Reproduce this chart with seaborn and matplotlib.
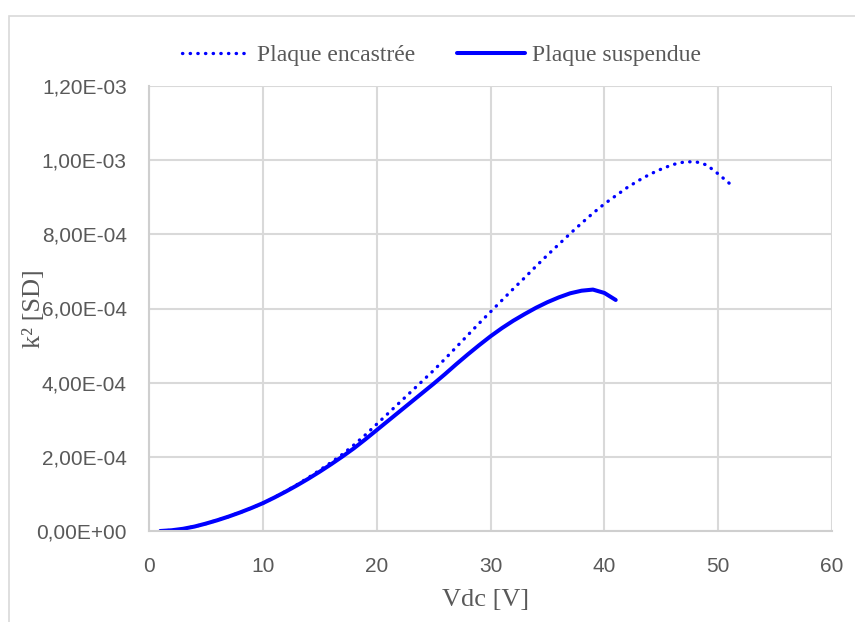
import matplotlib.pyplot as plt
import matplotlib.patches as mpatches
import seaborn as sns

# Data (k² values in units of 1e-4)
vdc_enc = [1, 2, 3, 4, 5, 6, 7, 8, 9, 10, 11, 12, 13, 14, 15, 16, 17, 18, 19, 20,
           21, 22, 23, 24, 25, 26, 27, 28, 29, 30, 31, 32, 33, 34, 35, 36, 37, 38, 39, 40,
           41, 42, 43, 44, 45, 46, 47, 48, 49, 50, 51]
k2_enc = [0.00, 0.02, 0.06, 0.12, 0.20, 0.29, 0.39, 0.50, 0.62, 0.75,
          0.90, 1.07, 1.25, 1.44, 1.64, 1.85, 2.07, 2.32, 2.59, 2.88,
          3.17, 3.46, 3.75, 4.04, 4.33, 4.64, 4.96, 5.28, 5.60, 5.91,
          6.22, 6.53, 6.83, 7.14, 7.44, 7.73, 8.02, 8.30, 8.57, 8.82,
          9.04, 9.26, 9.45, 9.62, 9.76, 9.88, 9.95, 9.96, 9.87, 9.63, 9.37]

vdc_susp = [1, 2, 3, 4, 5, 6, 7, 8, 9, 10, 11, 12, 13, 14, 15, 16, 17, 18, 19, 20,
            21, 22, 23, 24, 25, 26, 27, 28, 29, 30, 31, 32, 33, 34, 35, 36, 37, 38, 39, 40, 41]
k2_susp = [0.00, 0.02, 0.06, 0.12, 0.20, 0.29, 0.39, 0.50, 0.62, 0.75,
           0.90, 1.06, 1.23, 1.41, 1.60, 1.80, 2.01, 2.23, 2.47, 2.72,
           2.97, 3.22, 3.47, 3.72, 3.97, 4.23, 4.50, 4.76, 5.01, 5.25,
           5.47, 5.67, 5.85, 6.02, 6.17, 6.30, 6.41, 6.48, 6.51, 6.42, 6.23]

labels = ['Plaque encastrée', 'Plaque suspendue']
x_ticks = [0, 10, 20, 30, 40, 50, 60]
y_ticks = [0, 2e-4, 4e-4, 6e-4, 8e-4, 1e-3, 1.2e-3]

sns.set_theme(style="white")
plt.rcParams['font.family'] = ['Liberation Sans', 'DejaVu Sans']

grey_txt = '#595959'
grid_col = '#d9d9d9'

fig = plt.figure(figsize=(8.55, 6.22), dpi=100)
ax = fig.add_axes([149 / 855, 1 - 531 / 622, 683 / 855, 445 / 622])

sns.lineplot(x=vdc_enc, y=[v * 1e-4 for v in k2_enc], ax=ax, color='#0000ff',
             linewidth=2.4, label=labels[0])
sns.lineplot(x=vdc_susp, y=[v * 1e-4 for v in k2_susp], ax=ax, color='#0000ff',
             linewidth=2.9, label=labels[1])
line_enc, line_susp = ax.lines[0], ax.lines[1]
line_enc.set_linestyle((0, (0.1, 2.2)))
line_enc.set_dash_capstyle('round')
line_susp.set_solid_capstyle('round')
line_susp.set_solid_joinstyle('round')

ax.set_xlim(0, 60)
ax.set_ylim(0, 1.2e-3)
ax.set_xticks(x_ticks)
ax.set_yticks(y_ticks)
ax.set_xticklabels([str(t) for t in x_ticks])
ax.set_yticklabels([f"{t:.2E}".replace('.', ',') for t in y_ticks])
ax.tick_params(axis='both', length=0, labelsize=15, labelcolor=grey_txt)
ax.tick_params(axis='x', pad=19)
ax.tick_params(axis='y', pad=16)

ax.grid(True, color=grid_col, linewidth=1.5)
ax.set_axisbelow(True)
for side in ['top', 'right']:
    ax.spines[side].set_visible(False)
for side in ['left', 'bottom']:
    ax.spines[side].set_color('#cfcfcf')
    ax.spines[side].set_linewidth(1.5)

ax.set_xlabel('Vdc [V]', fontsize=19, color=grey_txt, family=['Liberation Serif'])
ax.set_ylabel('k² [SD]', fontsize=19, color=grey_txt, family=['Liberation Serif'])
ax.xaxis.set_label_coords(0.493, -0.13)
ax.yaxis.set_label_coords(-0.153, 0.5)

ax.get_legend().remove()
handles = [line_enc, line_susp]
leg = fig.legend(handles, labels, loc='center left', bbox_to_anchor=(170 / 855, 1 - 55 / 622),
                 ncol=2, frameon=False, borderpad=0, handlelength=2.9, handletextpad=0.3,
                 columnspacing=1.75, prop={'family': 'Liberation Serif', 'size': 17})
for t in leg.get_texts():
    t.set_color(grey_txt)

# light chart-area border (Excel style)
fig.patches.append(mpatches.Rectangle((8.5 / 855, -0.1), 1.2, 1.1 - 16 / 622,
                                      transform=fig.transFigure, fill=False,
                                      edgecolor=grid_col, linewidth=1.2))

plt.savefig('out.png', dpi=100)
plt.close()
